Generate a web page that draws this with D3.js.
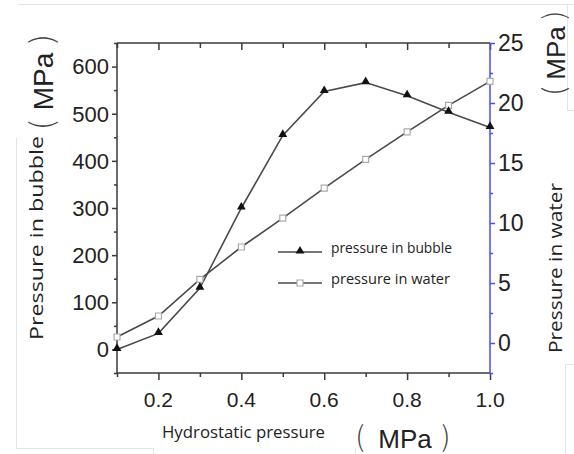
<!DOCTYPE html>
<html><head><meta charset="utf-8">
<script src="https://d3js.org/d3.v7.min.js"></script>
<style>body{margin:0;background:#fff}svg{display:block}</style>
</head><body>
<script>
const hydro = [0.1,0.2,0.3,0.4,0.5,0.6,0.7,0.8,0.9,1.0];
const bubble = [0,34,130,300,454,547,566,538,503,471];
const water = [0.5,2.25,5.3,8.0,10.4,12.9,15.3,17.6,19.8,21.8];
const xTicks = [0.2,0.4,0.6,0.8,1.0];
const leftTicks = [0,100,200,300,400,500,600];
const rightTicks = [0,5,10,15,20,25];
const seriesNames = ["pressure in bubble","pressure in water"];

const W=574,H=454;
const svg=d3.select("body").append("svg").attr("width",W).attr("height",H);
const x=d3.scaleLinear().domain([0.1,1.0]).range([117,490]);
const yL=d3.scaleLinear().domain([-50,650]).range([373,43]);
const yR=d3.scaleLinear().domain([-2.5,25]).range([373,43]);

// faint artifact lines
const art=svg.append("g").attr("stroke","#e4e4e4").attr("stroke-width",1).attr("fill","none");
art.append("path").attr("d","M18,4.5H574");
art.append("path").attr("d","M16.5,138V448.5H153.5V454");
art.append("path").attr("d","M355.5,448V454");
art.append("path").attr("d","M567.5,4V110.5H574");
art.append("path").attr("d","M565.5,454V364.5H574");

const axCol="#3a3a3a";
const numFont="'Liberation Sans', Arial, sans-serif";
const txtFont="'Open Sans', sans-serif";
const cjk="'Noto Sans CJK SC', sans-serif";

// Bottom axis
const allX=d3.range(1,11).map(v=>v/10);
const gB=svg.append("g").attr("transform","translate(0,373)");
gB.call(d3.axisBottom(x).tickValues(allX).tickSize(4).tickFormat(""));
gB.call(g=>g.selectAll(".tick line").attr("y2",d=>xTicks.includes(d)?7:4));
xTicks.forEach(t=>gB.append("text").attr("x",x(t)).attr("y",34).attr("text-anchor","middle")
  .attr("font-family",numFont).attr("font-size",21).attr("fill","#222").text(t.toFixed(1)));
// Top axis (ticks inward)
const gT=svg.append("g").attr("transform","translate(0,43)");
gT.call(d3.axisBottom(x).tickValues(allX).tickSize(5).tickFormat(""));
gT.call(g=>g.selectAll(".tick line").attr("y2",d=>xTicks.includes(d)?7:5));
// Left axis
const gL=svg.append("g").attr("transform","translate(117,0)");
gL.call(d3.axisLeft(yL).tickValues(d3.range(-50,651,50)).tickSize(5).tickFormat(""));
gL.call(g=>g.selectAll(".tick line").attr("x2",d=>leftTicks.includes(d)?-5:-3));
leftTicks.forEach(t=>gL.append("text").attr("x",-8).attr("y",yL(t)).attr("dy","0.36em").attr("text-anchor","end")
  .attr("font-family",numFont).attr("font-size",22).attr("fill","#222").text(t));
[gB,gT,gL].forEach(g=>{g.selectAll("path.domain,.tick line").attr("stroke",axCol).attr("stroke-width",1.5);});
gT.select("path.domain").attr("d","M117,0H490");
gB.select("path.domain").attr("d","M117,0H490");
gL.select("path.domain").attr("d","M0,43V373");
// Right axis
const gR=svg.append("g").attr("transform","translate(490,0)");
gR.call(d3.axisRight(yR).tickValues(d3.range(-2.5,25.01,2.5)).tickSize(5).tickFormat(""));
gR.call(g=>g.selectAll(".tick line").attr("x2",d=>rightTicks.includes(d)?5:3));
gR.selectAll("path.domain,.tick line").attr("stroke","#4a4aff").attr("stroke-width",1.5);
gR.select("path.domain").attr("d","M0,43V373");
rightTicks.forEach(t=>gR.append("text").attr("x",8).attr("y",yR(t)).attr("dy","0.36em").attr("text-anchor","start")
  .attr("font-family",numFont).attr("font-size",23).attr("fill","#222").text(t));

// Lines
const lineCol="#4a4a4a";
const lb=d3.line().x((d,i)=>x(hydro[i])).y(d=>yL(d));
const lw=d3.line().x((d,i)=>x(hydro[i])).y(d=>yR(d));
svg.append("path").attr("d",lb(bubble)).attr("fill","none").attr("stroke",lineCol).attr("stroke-width",1.6);
svg.append("path").attr("d",lw(water)).attr("fill","none").attr("stroke",lineCol).attr("stroke-width",1.6);
const tri=d3.symbol().type(d3.symbolTriangle).size(34);
const sq=d3.symbol().type(d3.symbolSquare).size(36);
svg.append("g").selectAll("path").data(water).join("path").attr("d",sq)
  .attr("transform",(d,i)=>`translate(${x(hydro[i])},${yR(d)})`).attr("fill","#fff").attr("stroke","#aaa").attr("stroke-width",1.2);
svg.append("g").selectAll("path").data(bubble).join("path").attr("d",tri)
  .attr("transform",(d,i)=>`translate(${x(hydro[i])},${yL(d)-1})`).attr("fill","#111");

// Legend
const leg=svg.append("g");
[[252,tri,"#111","none"],[283,sq,"#fff","#aaa"]].forEach((r,i)=>{
  leg.append("line").attr("x1",278).attr("x2",322).attr("y1",r[0]).attr("y2",r[0]).attr("stroke",lineCol).attr("stroke-width",1.6);
  leg.append("path").attr("d",r[1]).attr("transform",`translate(300,${r[0]-(i==0?1:0)})`).attr("fill",r[2]).attr("stroke",r[3]).attr("stroke-width",1.2);
  leg.append("text").attr("x",331).attr("y",r[0]-4).attr("dy","0.35em").attr("font-family",txtFont).attr("font-size",14)
    .attr("fill","#222").attr("textLength",i==0?121:119).attr("lengthAdjust","spacingAndGlyphs").text(seriesNames[i]);
});

// Titles
svg.append("text").attr("x",162).attr("y",438).attr("font-family",txtFont).attr("font-size",17).attr("fill","#222")
  .attr("textLength",163).attr("lengthAdjust","spacingAndGlyphs").text("Hydrostatic pressure");
svg.append("text").attr("transform","translate(36,238) rotate(-90)").attr("text-anchor","middle").attr("dy","0.35em")
  .attr("font-family",txtFont).attr("font-size",19).attr("fill","#222").attr("textLength",204).attr("lengthAdjust","spacingAndGlyphs")
  .text("Pressure in bubble");
svg.append("text").attr("transform","translate(555,268) rotate(-90)").attr("text-anchor","middle").attr("dy","0.35em")
  .attr("font-family",txtFont).attr("font-size",19).attr("fill","#222").attr("textLength",170).attr("lengthAdjust","spacingAndGlyphs")
  .text("Pressure in water");

// Unit labels "（MPa）" drawn as paren / MPa / paren
function unit(transform, pos, size){
  const g=svg.append("g").attr("transform",transform);
  g.append("text").attr("x",pos[0]).attr("y",-1).attr("text-anchor","middle").attr("font-family",cjk).attr("font-weight",300)
    .attr("font-size",size+2).attr("fill","#444").text("(");
  g.append("text").attr("x",pos[1]).attr("y",0).attr("text-anchor","middle").attr("font-family",numFont)
    .attr("font-size",size).attr("fill","#222").text("MPa");
  g.append("text").attr("x",pos[2]).attr("y",-1).attr("text-anchor","middle").attr("font-family",cjk).attr("font-weight",300)
    .attr("font-size",size+2).attr("fill","#444").text(")");
}
unit("translate(0,448)",[360,405,446],26);
unit("translate(53,0) rotate(-90)",[-125,-81.5,-39],28);
unit("translate(565,0) rotate(-90)",[-91,-53,-15],26);
</script>
</body></html>
